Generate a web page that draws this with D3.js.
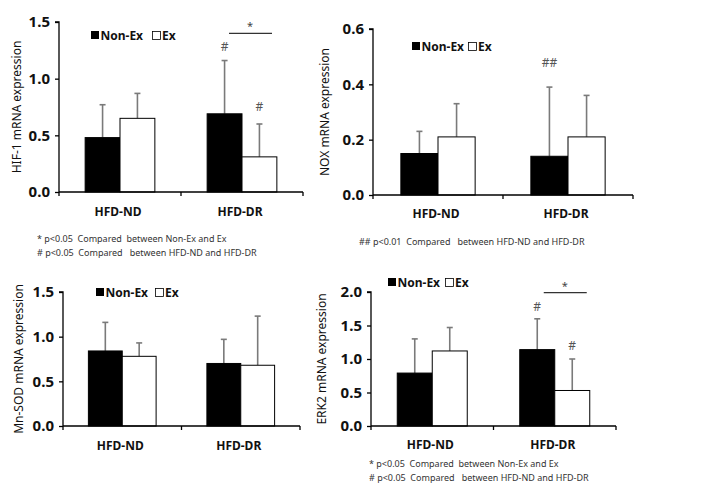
<!DOCTYPE html>
<html>
<head>
<meta charset="utf-8">
<script src="https://cdn.jsdelivr.net/npm/d3@7/dist/d3.min.js"></script>
<style>
  html, body { margin: 0; padding: 0; background: #fff; }
  svg { display: block; font-family: "Noto Sans", "Open Sans", sans-serif; }
</style>
</head>
<body>
<svg id="chart" width="703" height="485"></svg>
<script>
// ---------- data ----------
const categories = ["HFD-ND", "HFD-DR"];
const series = ["Non-Ex", "Ex"];

const hifMean = [[0.48, 0.65], [0.69, 0.31]];
const hifErr  = [[0.77, 0.87], [1.16, 0.60]];
const hifTicks = [0.0, 0.5, 1.0, 1.5];

const noxMean = [[0.15, 0.21], [0.14, 0.21]];
const noxErr  = [[0.23, 0.33], [0.39, 0.36]];
const noxTicks = [0.0, 0.2, 0.4, 0.6];

const sodMean = [[0.84, 0.78], [0.70, 0.68]];
const sodErr  = [[1.16, 0.93], [0.97, 1.23]];
const sodTicks = [0.0, 0.5, 1.0, 1.5];

const erkMean = [[0.79, 1.12], [1.14, 0.53]];
const erkErr  = [[1.30, 1.47], [1.60, 1.00]];
const erkTicks = [0.0, 0.5, 1.0, 1.5, 2.0];

const titles = ["HIF-1 mRNA expression", "NOX mRNA expression", "Mn-SOD mRNA expression", "ERK2 mRNA expression"];

const noteStar = "* p<0.05  Compared  between Non-Ex and Ex";
const noteHash = "# p<0.05  Compared   between HFD-ND and HFD-DR";
const noteHash2 = "## p<0.01  Compared   between HFD-ND and HFD-DR";

// ---------- layout ----------
const panels = [
  { mean: hifMean, err: hifErr, ticks: hifTicks, max: 1.5, title: titles[0],
    x: [59, 303], y: [192, 22], titleX: 17, catY: 216,
    legend: { x: 91, y: 31, gap: 9 },
    marks: [{ cat: 1, ser: 0, text: "#", v: 1.28 }, { cat: 1, ser: 1, text: "#", v: 0.75 }],
    sig: { cat: 1, v: 1.40, dx0: -13, dx1: 30, sx: 8 },
    notes: [noteStar, noteHash], noteX: 37, noteY: 242 },
  { mean: noxMean, err: noxErr, ticks: noxTicks, max: 0.6, title: titles[1],
    x: [373, 633], y: [195, 29], titleX: 325, catY: 218,
    legend: { x: 412, y: 42, gap: 4 },
    marks: [{ cat: 1, ser: 0, text: "##", v: 0.477 }],
    sig: null,
    notes: [noteHash2], noteX: 359, noteY: 245 },
  { mean: sodMean, err: sodErr, ticks: sodTicks, max: 1.5, title: titles[2],
    x: [63, 300], y: [426, 292], titleX: 19, catY: 450,
    legend: { x: 96, y: 288, gap: 7 },
    marks: [], sig: null, notes: [], noteX: 0, noteY: 0 },
  { mean: erkMean, err: erkErr, ticks: erkTicks, max: 2.0, title: titles[3],
    x: [371, 616], y: [426, 292], titleX: 322, catY: 449,
    legend: { x: 388, y: 278, gap: 5 },
    marks: [{ cat: 1, ser: 0, text: "#", v: 1.77 }, { cat: 1, ser: 1, text: "#", v: 1.20 }],
    sig: { cat: 1, v: 1.99, dx0: -11, dx1: 32, sx: 10 },
    notes: [noteStar, noteHash], noteX: 369, noteY: 467 }
];

const svg = d3.select("#chart");

panels.forEach(p => {
  const g = svg.append("g");
  const x0 = d3.scaleBand().domain(categories).range(p.x).padding(0);
  const x1 = d3.scaleBand().domain(series).range([0, x0.bandwidth()]).paddingInner(0).paddingOuter(0.75);
  const y = d3.scaleLinear().domain([0, p.max]).range(p.y);

  const rows = [];
  categories.forEach((c, ci) => series.forEach((s, si) => rows.push({ c, ci, s, si, v: p.mean[ci][si], e: p.err[ci][si] })));

  // error bars (upper only)
  const eb = g.append("g").attr("stroke", "#7a7a7a").attr("stroke-width", 1.6);
  rows.forEach(r => {
    const cx = x0(r.c) + x1(r.s) + x1.bandwidth() / 2;
    eb.append("line").attr("x1", cx).attr("x2", cx).attr("y1", y(r.v)).attr("y2", y(r.e));
    eb.append("line").attr("x1", cx - 3).attr("x2", cx + 3).attr("y1", y(r.e)).attr("y2", y(r.e));
  });

  g.selectAll("rect.bar").data(rows).join("rect")
    .attr("class", "bar")
    .attr("x", d => x0(d.c) + x1(d.s))
    .attr("y", d => y(d.v))
    .attr("width", x1.bandwidth())
    .attr("height", d => y(0) - y(d.v))
    .attr("fill", d => d.si === 0 ? "#000" : "#fff")
    .attr("stroke", "#000")
    .attr("stroke-width", 1);

  // y axis
  const yAxis = d3.axisLeft(y).tickValues(p.ticks).tickFormat(d3.format(".1f")).tickSize(4).tickPadding(5);
  const ya = g.append("g").attr("transform", `translate(${p.x[0]},0)`).call(yAxis);
  ya.select(".domain").attr("stroke", "#000").attr("stroke-width", 1.3).attr("d", `M-4,${p.y[1]}H0V${p.y[0]}`);
  ya.selectAll(".tick line").attr("stroke", "#000").attr("stroke-width", 1.3);
  ya.selectAll(".tick text").attr("font-size", 15).attr("font-weight", "bold").attr("fill", "#111")
    .attr("font-family", "'Noto Sans', sans-serif");

  // x axis
  const xa = g.append("g").attr("transform", `translate(0,${p.y[0]})`);
  xa.append("line").attr("x1", p.x[0]).attr("x2", p.x[1]).attr("stroke", "#000").attr("stroke-width", 1.3);
  const xTicks = [p.x[0], x0(categories[1]), p.x[1]];
  xTicks.forEach(t => xa.append("line").attr("x1", t).attr("x2", t).attr("y1", 0).attr("y2", 4)
    .attr("stroke", "#000").attr("stroke-width", 1.3));
  categories.forEach(c => {
    g.append("text").attr("x", x0(c) + x0.bandwidth() / 2 - 2).attr("y", p.catY)
      .attr("text-anchor", "middle").attr("font-size", 12).attr("font-weight", "bold").attr("fill", "#111")
      .text(c);
  });

  // y title
  const midY = (p.y[0] + p.y[1]) / 2;
  g.append("text").attr("transform", `translate(${p.titleX + 4},${midY}) rotate(-90)`)
    .attr("text-anchor", "middle").attr("font-size", 12).attr("fill", "#111").text(p.title);

  // legend
  const lg = g.append("g").attr("transform", `translate(${p.legend.x},${p.legend.y})`);
  lg.append("rect").attr("x", 0).attr("y", 0).attr("width", 8).attr("height", 8).attr("fill", "#000");
  const t1 = lg.append("text").attr("x", 9.5).attr("y", 8.5).attr("font-size", 12).attr("font-weight", "bold")
    .attr("fill", "#111").text(series[0]);
  const w1 = t1.node().getComputedTextLength();
  const sx = 9.5 + w1 + p.legend.gap;
  lg.append("rect").attr("x", sx + 0.5).attr("y", 0.5).attr("width", 8).attr("height", 8)
    .attr("fill", "#fff").attr("stroke", "#000").attr("stroke-width", 0.8);
  lg.append("text").attr("x", sx + 10).attr("y", 8.5).attr("font-size", 12).attr("font-weight", "bold")
    .attr("fill", "#111").text(series[1]);

  // marks
  p.marks.forEach(m => {
    const cx = x0(categories[m.cat]) + x1(series[m.ser]) + x1.bandwidth() / 2;
    g.append("text").attr("x", cx).attr("y", y(m.v) + 4).attr("text-anchor", "middle")
      .attr("font-size", 12).attr("fill", "#555").text(m.text);
  });
  if (p.sig) {
    const cx = x0(categories[p.sig.cat]) + x0.bandwidth() / 2;
    g.append("line").attr("x1", cx + p.sig.dx0).attr("x2", cx + p.sig.dx1).attr("y1", y(p.sig.v)).attr("y2", y(p.sig.v))
      .attr("stroke", "#333").attr("stroke-width", 1.2);
    g.append("text").attr("x", cx + p.sig.sx).attr("y", y(p.sig.v) - 3).attr("text-anchor", "middle")
      .attr("font-size", 11).attr("fill", "#444").text("*");
  }

  // footnotes
  p.notes.forEach((n, i) => {
    g.append("text").attr("x", p.noteX).attr("y", p.noteY + i * 13.5).attr("font-size", 9)
      .attr("fill", "#333").style("white-space", "pre").text(n);
  });
});
</script>
</body>
</html>
